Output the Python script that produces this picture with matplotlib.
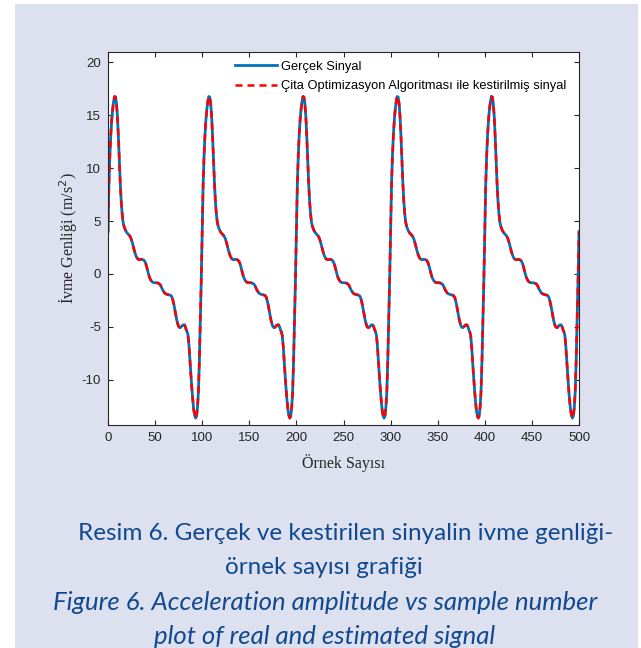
import numpy as np
import matplotlib
matplotlib.use("Agg")
import matplotlib.pyplot as plt
from matplotlib.patches import Rectangle

plt.rcParams["axes.unicode_minus"] = False

# ===== data (one period of 100 samples) =====
CYCLE_VALUES = [
    4.0, 8.5, 11.2, 13.2, 14.6, 15.6, 16.3, 16.75, 16.7, 16.1,
    14.9, 13.0, 10.8, 8.6, 6.9, 5.7, 4.9, 4.5, 4.25, 4.05,
    3.9, 3.8, 3.7, 3.6, 3.45, 3.2, 2.9, 2.55, 2.2, 1.9,
    1.65, 1.48, 1.4, 1.35, 1.35, 1.38, 1.38, 1.35, 1.3, 1.2,
    1.0, 0.7, 0.35, 0.0, -0.3, -0.5, -0.65, -0.75, -0.8, -0.82,
    -0.82, -0.82, -0.83, -0.86, -0.9, -0.97, -1.1, -1.3, -1.5, -1.65,
    -1.78, -1.86, -1.9, -1.93, -1.95, -1.97, -2.0, -2.05, -2.2, -2.5,
    -2.9, -3.4, -3.9, -4.35, -4.7, -4.95, -5.05, -5.05, -4.95, -4.85,
    -4.8, -4.8, -4.95, -5.25, -5.45, -5.8, -6.8, -8.2, -9.5, -10.8,
    -11.9, -12.8, -13.35, -13.6, -13.4, -12.6, -11.1, -8.2, -4.4, -0.5,
]
N_CYCLES = 5

LEGEND_LABELS = ["Gerçek Sinyal",
                 "Çita Optimizasyon Algoritması ile kestirilmiş sinyal"]
XTICKS = list(range(0, 501, 50))
YTICKS = [-10, -5, 0, 5, 10, 15, 20]
XLABEL = "Örnek Sayısı"
YLABEL = "İvme Genliği (m/s$^2$)"
CAPTION = [
    ("Resim 6. Gerçek ve kestirilen sinyalin ivme genliği-", "normal"),
    ("örnek sayısı grafiği", "normal"),
    ("Figure 6. Acceleration amplitude vs sample number", "italic"),
    ("plot of real and estimated signal", "italic"),
]

real = np.array(CYCLE_VALUES * N_CYCLES + CYCLE_VALUES[:1])
estimated = real.copy()
samples = np.arange(len(real))

W, H = 641, 648
fig = plt.figure(figsize=(W / 100, H / 100), dpi=100, facecolor="white")

# lavender page background, kept behind the axes
fig.patches.append(Rectangle((15 / W, 0), (638 - 15) / W, (H - 4) / H,
                             transform=fig.transFigure, facecolor="#dde1ef",
                             edgecolor="none", zorder=-10))

ax = fig.add_axes([108 / W, 1 - 425 / H, (579 - 108) / W, (425 - 52) / H])
ax.set_facecolor("white")
ax.set_zorder(2)

ax.plot(samples, real, color="#0072BD", lw=2.0, label=LEGEND_LABELS[0])
ax.plot(samples, estimated, color="#FF0000", lw=1.8,
        linestyle=(0, (2.8, 2.0)), label=LEGEND_LABELS[1])

ax.set_xlim(0, 500)
ax.set_ylim(-14.25, 20.95)
ax.set_xticks(XTICKS)
ax.set_yticks(YTICKS)

for sp in ax.spines.values():
    sp.set_color("#262626")
    sp.set_linewidth(0.8)
ax.tick_params(direction="in", length=3.5, width=0.8, colors="#262626",
               top=True, right=True, labelsize=9.5, pad=5)
for lab in ax.get_xticklabels() + ax.get_yticklabels():
    lab.set_fontfamily("Liberation Sans")

ax.set_xlabel(XLABEL, fontfamily="Liberation Serif", fontsize=11.5,
              color="#262626")
ax.xaxis.set_label_coords(0.5, -0.078)
ax.set_ylabel(YLABEL, fontfamily="Liberation Serif", fontsize=11.5,
              color="#262626")
ax.yaxis.set_label_coords(-0.059, 0.5)

ax.legend(loc="upper left", bbox_to_anchor=(0.2696, 0.977), frameon=False,
          borderpad=0, borderaxespad=0, handlelength=3.25,
          handletextpad=0.3, labelspacing=0.6,
          prop={"family": "Liberation Sans", "size": 9.3})

caption_pos = [(346, 533), (324, 567), (325, 602), (325, 636)]
caption_size = {"normal": 17.5, "italic": 18.5}
for (txt, style), (cx, cy) in zip(CAPTION, caption_pos):
    fig.text(cx / W, 1 - cy / H, txt, ha="center", va="center",
             fontfamily="Lato", fontstyle=style, fontsize=caption_size[style],
             color="#11498f")

fig.savefig("out.png", dpi=100, facecolor=fig.get_facecolor())
